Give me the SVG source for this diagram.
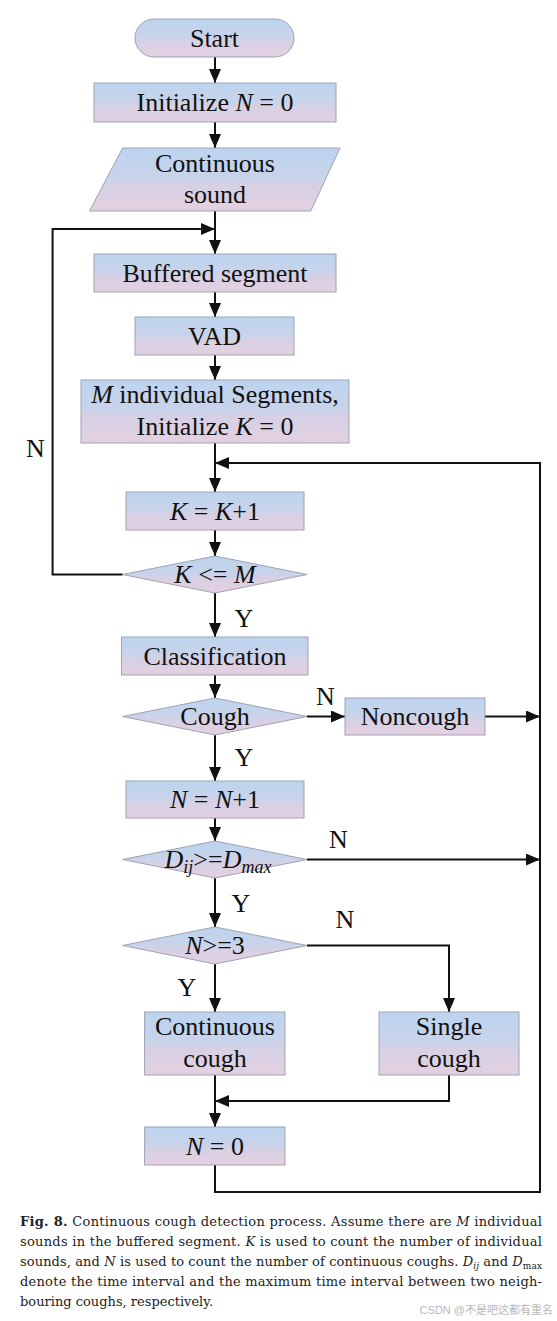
<svg xmlns="http://www.w3.org/2000/svg" width="557" height="1321" viewBox="0 0 557 1321">
<style>
.box{stroke:#9ea3b3;stroke-width:1;fill:url(#g)}
.t{font-family:"Liberation Serif","Times New Roman",serif;font-size:26px;fill:#111;text-anchor:middle}
.lbl{font-family:"Liberation Serif","Times New Roman",serif;font-size:26px;fill:#111;text-anchor:middle}
.i{font-style:italic}
.c{stroke:#111;stroke-width:2;fill:none}
.a{marker-end:url(#ah)}
.cap{font-family:"DejaVu Serif",serif;font-size:13px;fill:#222}
.wm{font-family:"Liberation Sans","Noto Sans CJK SC",sans-serif;font-size:11px;fill:#b8b8b8;text-anchor:end}
</style>
<defs>
<linearGradient id="g" x1="0" y1="0" x2="0" y2="1">
<stop offset="0" stop-color="#bcd4ef"/>
<stop offset="0.45" stop-color="#c8d3ea"/>
<stop offset="0.62" stop-color="#d8d0e4"/>
<stop offset="1" stop-color="#e4d0e0"/>
</linearGradient>
<marker id="ah" markerUnits="userSpaceOnUse" markerWidth="14" markerHeight="12" refX="14" refY="6" orient="auto">
<path d="M0,0 L14,6 L0,12 z" fill="#111"/>
</marker>
</defs>

<g id="connectors">
<path class="c a" d="M215,57 V83"/>
<path class="c a" d="M215,122 V148"/>
<path class="c a" d="M215,211 V254"/>
<path class="c a" d="M122.6,574.5 H52.6 V229 H215"/>
<path class="c a" d="M215,292 V317"/>
<path class="c a" d="M215,355 V380"/>
<path class="c a" d="M215,443 V492"/>
<path class="c a" d="M215,1165 V1192 H540 V463 H215"/>
<path class="c a" d="M215,530 V556"/>
<path class="c a" d="M215,593 V637"/>
<path class="c a" d="M215,675 V698"/>
<path class="c a" d="M307,716.5 H345"/>
<path class="c a" d="M485,716.5 H540"/>
<path class="c a" d="M215,735 V781"/>
<path class="c a" d="M215,818 V841"/>
<path class="c a" d="M307,859.5 H540"/>
<path class="c a" d="M215,878 V927"/>
<path class="c a" d="M307,945.5 H449 V1012"/>
<path class="c a" d="M215,964 V1012"/>
<path class="c a" d="M449,1075 V1101 H215"/>
<path class="c a" d="M215,1075 V1127"/>
<text class="lbl" x="35.5" y="457">N</text>
<text class="lbl" x="244" y="627">Y</text>
<text class="lbl" x="325.5" y="705">N</text>
<text class="lbl" x="244" y="766">Y</text>
<text class="lbl" x="338.5" y="848">N</text>
<text class="lbl" x="241" y="912">Y</text>
<text class="lbl" x="345" y="928">N</text>
<text class="lbl" x="187" y="996">Y</text>
</g>

<g id="start">
<rect class="box" x="135" y="19" width="159" height="38" rx="19" ry="19"/>
<text class="t" x="214.5" y="47">Start</text>
</g>
<g id="initN">
<rect class="box" x="94" y="83" width="242" height="39"/>
<text class="t" x="215" y="111">Initialize <tspan class="i">N</tspan> = 0</text>
</g>
<g id="sound">
<polygon class="box" points="122.6,148 340,148 310.8,211 89.5,211"/>
<text class="t" x="215" y="172">Continuous</text>
<text class="t" x="215" y="203">sound</text>
</g>
<g id="buffered">
<rect class="box" x="94" y="254" width="242" height="38"/>
<text class="t" x="215" y="282">Buffered segment</text>
</g>
<g id="vad">
<rect class="box" x="135" y="317" width="159" height="38"/>
<text class="t" x="214.5" y="345">VAD</text>
</g>
<g id="segments">
<rect class="box" x="81" y="380" width="268" height="63"/>
<text class="t" x="215" y="403"><tspan class="i">M</tspan> individual Segments,</text>
<text class="t" x="215" y="435">Initialize <tspan class="i">K</tspan> = 0</text>
</g>
<g id="kinc">
<rect class="box" x="126" y="492" width="178" height="38"/>
<text class="t" x="215" y="520"><tspan class="i">K</tspan> = <tspan class="i">K</tspan>+1</text>
</g>
<g id="kcheck">
<polygon class="box" points="215,556 307,574.5 215,593 122.6,574.5"/>
<text class="t" x="215" y="583"><tspan class="i">K</tspan> &lt;= <tspan class="i">M</tspan></text>
</g>
<g id="classification">
<rect class="box" x="121.5" y="637" width="186.5" height="38"/>
<text class="t" x="215" y="665">Classification</text>
</g>
<g id="cough">
<polygon class="box" points="215,698 307,716.5 215,735 122.6,716.5"/>
<text class="t" x="215" y="725">Cough</text>
</g>
<g id="noncough">
<rect class="box" x="345" y="698" width="140" height="37"/>
<text class="t" x="415" y="725">Noncough</text>
</g>
<g id="ninc">
<rect class="box" x="126" y="781" width="178" height="37"/>
<text class="t" x="215" y="808"><tspan class="i">N</tspan> = <tspan class="i">N</tspan>+1</text>
</g>
<g id="dcheck">
<polygon class="box" points="215,841 307,859.5 215,878 122.6,859.5"/>
<text class="t" x="218" y="868"><tspan class="i">D</tspan><tspan class="i" font-size="18" dy="5">ij</tspan><tspan dy="-5">&gt;=</tspan><tspan class="i">D</tspan><tspan class="i" font-size="18" dy="5">max</tspan></text>
</g>
<g id="ncheck">
<polygon class="box" points="215,927 307,945.5 215,964 122.6,945.5"/>
<text class="t" x="215" y="954"><tspan class="i">N</tspan>&gt;=3</text>
</g>
<g id="continuous">
<rect class="box" x="144.6" y="1012" width="140.4" height="63"/>
<text class="t" x="215" y="1035">Continuous</text>
<text class="t" x="215" y="1067">cough</text>
</g>
<g id="single">
<rect class="box" x="379" y="1012" width="140" height="63"/>
<text class="t" x="449" y="1035">Single</text>
<text class="t" x="449" y="1067">cough</text>
</g>
<g id="reset">
<rect class="box" x="144.6" y="1127" width="140.4" height="38"/>
<text class="t" x="215" y="1155"><tspan class="i">N</tspan> = 0</text>
</g>

<g id="caption">
<text class="cap" x="20" y="1226" textLength="522" lengthAdjust="spacing"><tspan font-weight="bold">Fig. 8.</tspan> Continuous cough detection process. Assume there are <tspan font-style="italic">M</tspan> individual</text>
<text class="cap" x="20" y="1246" textLength="522" lengthAdjust="spacing">sounds in the buffered segment. <tspan font-style="italic">K</tspan> is used to count the number of individual</text>
<text class="cap" x="20" y="1266" textLength="522" lengthAdjust="spacing">sounds, and <tspan font-style="italic">N</tspan> is used to count the number of continuous coughs. <tspan font-style="italic">D</tspan><tspan font-style="italic" font-size="9" dy="3">ij</tspan><tspan dy="-3"> and </tspan><tspan font-style="italic">D</tspan><tspan font-size="9" dy="3">max</tspan></text>
<text class="cap" x="20" y="1286" textLength="522" lengthAdjust="spacing">denote the time interval and the maximum time interval between two neigh-</text>
<text class="cap" x="20" y="1306">bouring coughs, respectively.</text>
<text class="wm" x="553" y="1314">CSDN @不是吧这都有重名</text>
</g>
</svg>
